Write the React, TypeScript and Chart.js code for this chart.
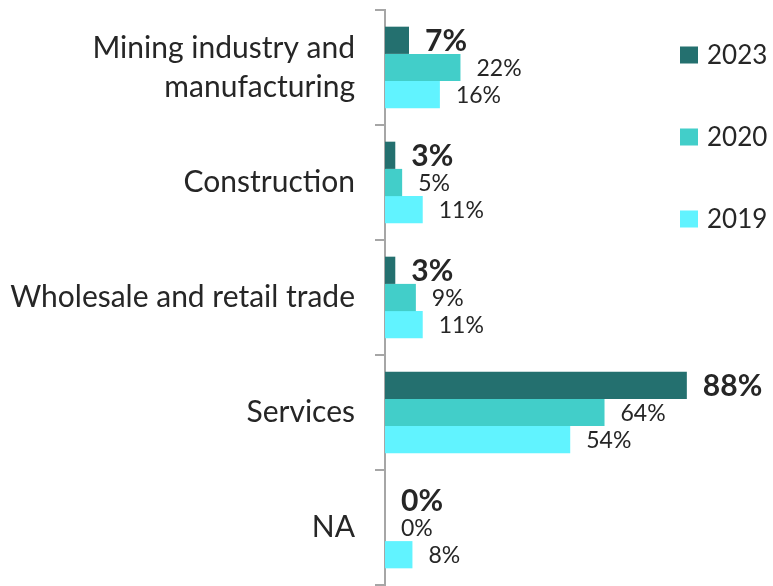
import React, { useEffect, useRef } from "react";
import { Chart, registerables } from "chart.js";

Chart.register(...registerables);

const categories: (string | string[])[] = [
  ["Mining industry and", "manufacturing"],
  "Construction",
  "Wholesale and retail trade",
  "Services",
  "NA",
];
const series2023 = [7, 3, 3, 88, 0];
const series2020 = [22, 5, 9, 64, 0];
const series2019 = [16, 11, 11, 54, 8];
const seriesLabels = ["2023", "2020", "2019"];
const seriesColors = ["#24706F", "#42CEC9", "#61F3FF"];

const FONT = "Lato";
const TEXT = "#262626";

const valueLabels = {
  id: "valueLabels",
  afterDatasetsDraw(chart: any) {
    const ctx = chart.ctx;
    ctx.save();
    chart.data.datasets.forEach((ds: any, i: number) => {
      const meta = chart.getDatasetMeta(i);
      meta.data.forEach((bar: any, j: number) => {
        const v = ds.data[j];
        ctx.font = i === 0 ? `bold 30px ${FONT}` : `23px ${FONT}`;
        ctx.fillStyle = TEXT;
        ctx.textAlign = "left";
        ctx.textBaseline = "middle";
        ctx.fillText(`${v}%`, bar.x + 16, bar.y + 1);
      });
    });
    ctx.restore();
  },
};

const sideLegend = {
  id: "sideLegend",
  afterDraw(chart: any) {
    const ctx = chart.ctx;
    ctx.save();
    const x = 680;
    const startY = 55;
    const step = 82;
    chart.data.datasets.forEach((ds: any, i: number) => {
      const cy = startY + i * step;
      ctx.fillStyle = ds.backgroundColor;
      ctx.fillRect(x, cy - 8.5, 18, 17);
      ctx.fillStyle = TEXT;
      ctx.font = `26px ${FONT}`;
      ctx.textAlign = "left";
      ctx.textBaseline = "middle";
      ctx.fillText(ds.label, x + 27, cy + 1);
    });
    ctx.restore();
  },
};

export default function App() {
  const ref = useRef<HTMLCanvasElement>(null);
  useEffect(() => {
    document.body.style.margin = "0";
    if (!ref.current) return;
    const chart = new Chart(ref.current, {
      type: "bar",
      data: {
        labels: categories,
        datasets: [series2023, series2020, series2019].map((d, i) => ({
          label: seriesLabels[i],
          data: d,
          backgroundColor: seriesColors[i],
          borderWidth: 0,
          categoryPercentage: 0.71,
          barPercentage: 1,
        })),
      },
      options: {
        indexAxis: "y",
        animation: false,
        responsive: false,
        layout: { padding: { top: 10, bottom: 1, right: 45, left: 0 } },
        plugins: {
          legend: { display: false },
          tooltip: { enabled: false },
        },
        scales: {
          x: { display: false, min: 0, max: 100 },
          y: {
            afterFit(scale: any) {
              scale.width = 385;
              scale.paddingTop = 0;
              scale.paddingBottom = 0;
            },
            grid: {
              display: true,
              drawOnChartArea: false,
              drawTicks: true,
              tickLength: 10,
              color: "#A6A6A6",
              lineWidth: 2,
              offset: true,
            },
            border: { display: true, color: "#A6A6A6", width: 2 },
            ticks: {
              padding: 20,
              color: TEXT,
              font: { family: FONT, size: 30, lineHeight: 1.3 },
            },
          },
        },
      },
      plugins: [valueLabels, sideLegend],
    });
    return () => chart.destroy();
  }, []);
  return (
    <div style={{ width: 773, height: 586 }}>
      <canvas ref={ref} width={773} height={586} />
    </div>
  );
}
